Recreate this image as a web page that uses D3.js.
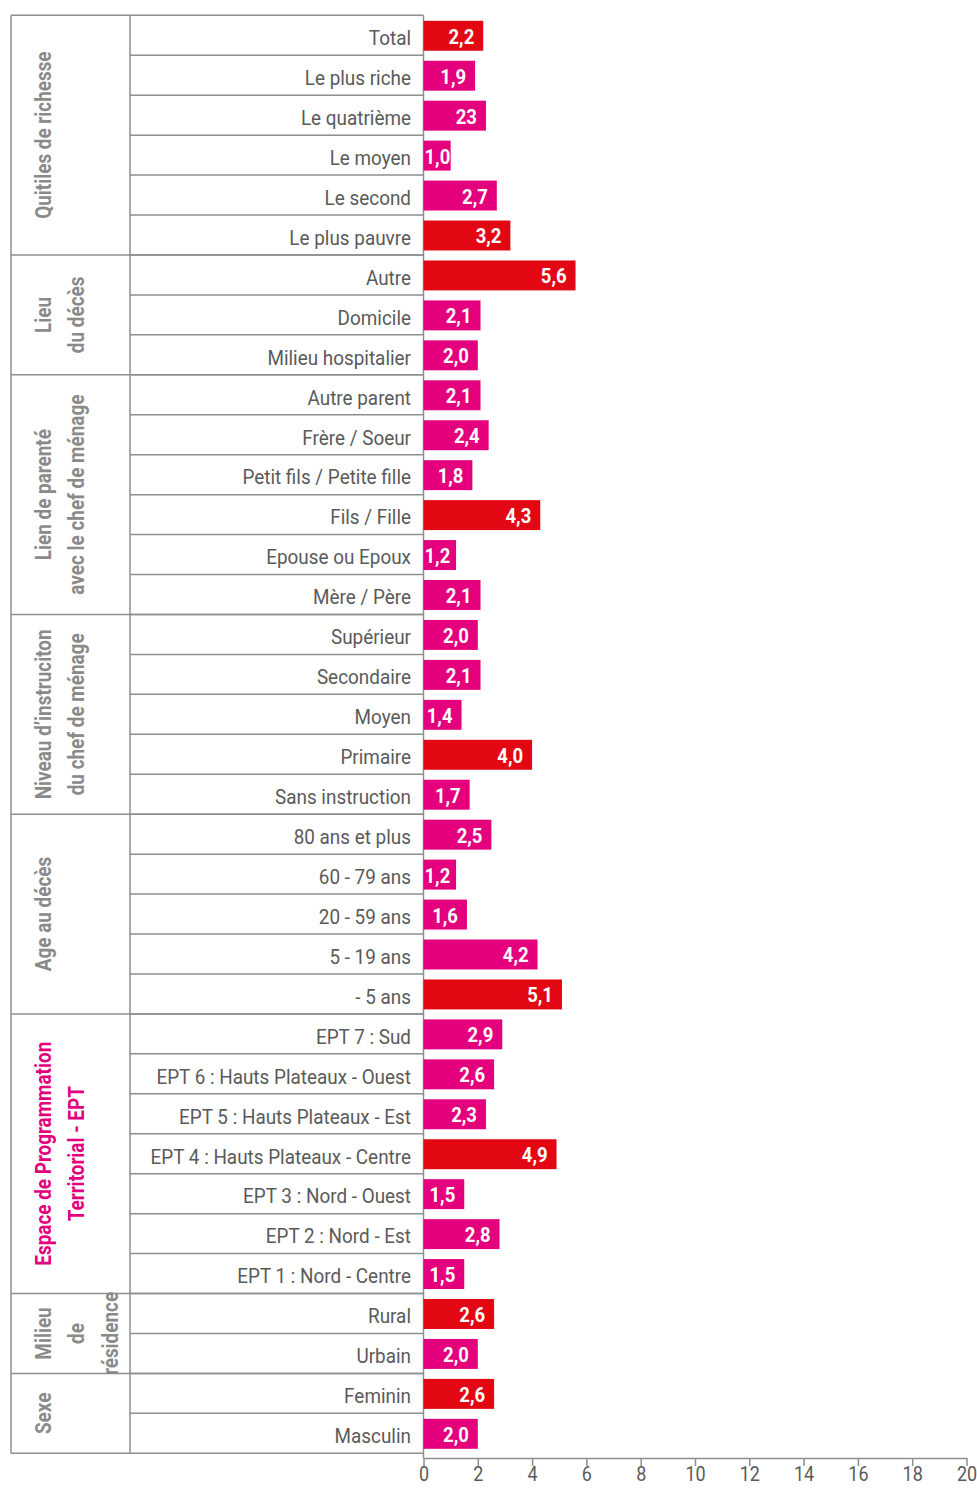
<!DOCTYPE html>
<html lang="fr">
<head>
<meta charset="utf-8">
<script src="https://cdn.jsdelivr.net/npm/d3@7"></script>
<style>
  html, body { margin: 0; padding: 0; background: #fff; }
  svg { display: block; }
  text { font-family: Roboto, "Noto Sans", sans-serif; }
</style>
</head>
<body>
<svg id="chart" width="977" height="1488"></svg>
<script>
// Group titles (one entry per rotated line) and how many rows each group spans
const groupTitles = [
  ["Quitiles de richesse"],
  ["Lieu", "du décès"],
  ["Lien de parenté", "avec le chef de ménage"],
  ["Niveau d’instruciton", "du chef de ménage"],
  ["Age au décès"],
  ["Espace de Programmation", "Territorial - EPT"],
  ["Milieu", "de", "résidence"],
  ["Sexe"]
];
const groupSizes = [6, 3, 6, 5, 5, 7, 2, 2];
const accentGroup = "Espace de Programmation";

const categories = [
  "Total", "Le plus riche", "Le quatrième", "Le moyen", "Le second", "Le plus pauvre",
  "Autre", "Domicile", "Milieu hospitalier",
  "Autre parent", "Frère / Soeur", "Petit fils / Petite fille", "Fils / Fille", "Epouse ou Epoux", "Mère / Père",
  "Supérieur", "Secondaire", "Moyen", "Primaire", "Sans instruction",
  "80 ans et plus", "60 - 79 ans", "20 - 59 ans", "5 - 19 ans", "- 5 ans",
  "EPT 7 : Sud", "EPT 6 : Hauts Plateaux - Ouest", "EPT 5 : Hauts Plateaux - Est",
  "EPT 4 : Hauts Plateaux - Centre", "EPT 3 : Nord - Ouest", "EPT 2 : Nord - Est", "EPT 1 : Nord - Centre",
  "Rural", "Urbain",
  "Feminin", "Masculin"
];
const values = [
  2.2, 1.9, 2.3, 1.0, 2.7, 3.2,
  5.6, 2.1, 2.0,
  2.1, 2.4, 1.8, 4.3, 1.2, 2.1,
  2.0, 2.1, 1.4, 4.0, 1.7,
  2.5, 1.2, 1.6, 4.2, 5.1,
  2.9, 2.6, 2.3, 4.9, 1.5, 2.8, 1.5,
  2.6, 2.0,
  2.6, 2.0
];
// Printed value texts (as published, including the missing comma on "23")
const valueTexts = [
  "2,2", "1,9", "23", "1,0", "2,7", "3,2",
  "5,6", "2,1", "2,0",
  "2,1", "2,4", "1,8", "4,3", "1,2", "2,1",
  "2,0", "2,1", "1,4", "4,0", "1,7",
  "2,5", "1,2", "1,6", "4,2", "5,1",
  "2,9", "2,6", "2,3", "4,9", "1,5", "2,8", "1,5",
  "2,6", "2,0",
  "2,6", "2,0"
];
const highlighted = [
  "Total", "Le plus pauvre", "Autre", "Fils / Fille", "Primaire", "- 5 ans",
  "EPT 4 : Hauts Plateaux - Centre", "Rural", "Feminin"
];
const xTicks = [0, 2, 4, 6, 8, 10, 12, 14, 16, 18, 20];

const RED = "#e30613";
const MAGENTA = "#e4007c";
const LINE = "#8e8e8e";
const LABEL_SCALE = 0.9;

const svg = d3.select("#chart");

const tableLeft = 11, groupRight = 130, labelRight = 423.5;
const tableTop = 15.3, tableBottom = 1453.3, axisY = 1458;

const y = d3.scaleBand().domain(categories).range([tableTop, tableBottom]).padding(0);
const x = d3.scaleLinear().domain([0, 20]).range([labelRight, 966.5]);

const rows = categories.map((c, i) => ({ cat: c, value: values[i], text: valueTexts[i] }));

// Group boundaries
let start = 0;
const groups = groupTitles.map((t, i) => {
  const g = { title: t, first: categories[start], last: categories[start + groupSizes[i] - 1] };
  start += groupSizes[i];
  return g;
});

const table = svg.append("g").attr("stroke", LINE).attr("stroke-width", 1.5).attr("fill", "none");

// Row separators inside the label column
categories.forEach((c, i) => {
  if (i === 0) return;
  table.append("line")
    .attr("x1", groupRight).attr("x2", labelRight)
    .attr("y1", y(c)).attr("y2", y(c));
});
// Group separators across both columns
groups.forEach(g => {
  table.append("line")
    .attr("x1", tableLeft).attr("x2", labelRight)
    .attr("y1", y(g.first)).attr("y2", y(g.first));
});
table.append("line").attr("x1", tableLeft).attr("x2", labelRight)
  .attr("y1", tableBottom).attr("y2", tableBottom);
// Vertical rules
table.append("line").attr("x1", tableLeft).attr("x2", tableLeft).attr("y1", tableTop).attr("y2", tableBottom);
table.append("line").attr("x1", groupRight).attr("x2", groupRight).attr("y1", tableTop).attr("y2", tableBottom);
table.append("line").attr("x1", labelRight).attr("x2", labelRight).attr("y1", tableTop).attr("y2", axisY);

// Category labels
svg.append("g").selectAll("text").data(rows).join("text")
  .attr("transform", d => `translate(411,${y(d.cat) + y.bandwidth() / 2 + 9.8}) scale(${LABEL_SCALE},1)`)
  .attr("text-anchor", "end")
  .attr("font-size", 21)
  .attr("fill", "#5a5a5a")
  .text(d => d.cat);

// Group titles, rotated
const lineGap = 33.5;
groups.forEach(g => {
  const cy = (y(g.first) + y(g.last) + y.bandwidth()) / 2;
  const accent = g.title[0] === accentGroup;
  g.title.forEach((line, j) => {
    svg.append("text")
      .attr("transform", `translate(${50.5 + j * lineGap},${cy}) rotate(-90) scale(0.86,1)`)
      .attr("text-anchor", "middle")
      .attr("font-size", 22)
      .attr("font-weight", 700)
      .attr("fill", accent ? MAGENTA : "#8a8a8a")
      .text(line);
  });
});

// Bars
const barInset = 5.5, barH = y.bandwidth() - 10;
svg.append("g").selectAll("rect").data(rows).join("rect")
  .attr("x", x(0))
  .attr("y", d => y(d.cat) + barInset)
  .attr("width", d => x(d.value) - x(0))
  .attr("height", barH)
  .attr("fill", d => highlighted.includes(d.cat) ? RED : MAGENTA);

// Value labels inside the bars
const valueScale = 0.88;
svg.append("g").selectAll("text").data(rows).join("text")
  .attr("text-anchor", "end")
  .attr("font-size", 21)
  .attr("font-weight", 700)
  .attr("fill", "#fff")
  .text(d => d.text)
  .each(function (d) {
    const w = this.getComputedTextLength() * valueScale;
    const xe = Math.max(x(d.value) - 9, x(0) + w + 1);
    d3.select(this).attr("transform", `translate(${xe},${y(d.cat) + y.bandwidth() / 2 + 8.5}) scale(${valueScale},1)`);
  });

// Horizontal axis
const axis = svg.append("g")
  .attr("transform", `translate(0,${axisY})`)
  .call(d3.axisBottom(x).tickValues(xTicks).tickSize(8).tickSizeOuter(0).tickPadding(1));
axis.select(".domain").attr("stroke", LINE).attr("stroke-width", 1.5);
axis.selectAll(".tick line").attr("stroke", LINE).attr("stroke-width", 1.5);
axis.selectAll(".tick text")
  .attr("font-size", 20)
  .attr("font-family", "Roboto, sans-serif")
  .attr("fill", "#5a5a5a")
  .attr("transform", `scale(${LABEL_SCALE},1)`);
</script>
</body>
</html>
